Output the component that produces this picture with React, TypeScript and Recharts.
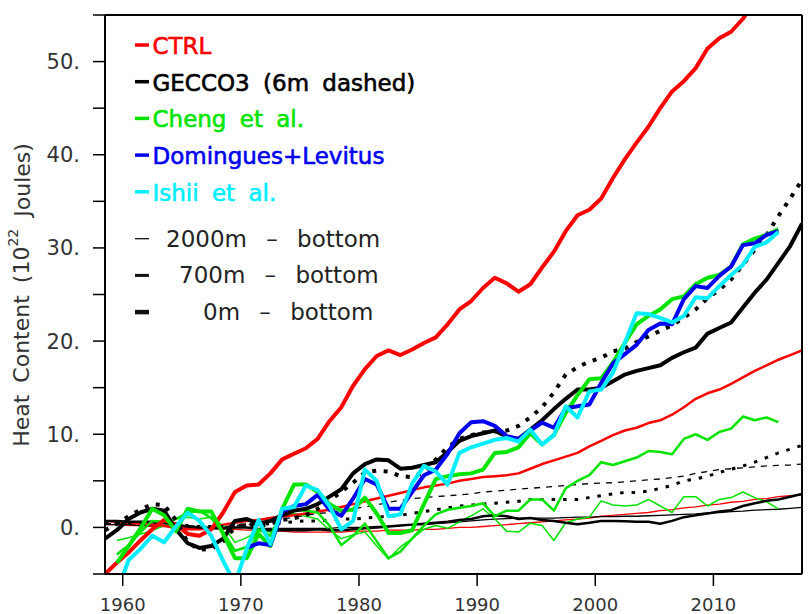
import { LineChart, Line, XAxis, YAxis } from 'recharts';

// annual means, plotted at mid-year
const YEARS = [
  1958.5, 1959.5, 1960.5, 1961.5, 1962.5, 1963.5, 1964.5, 1965.5, 1966.5, 1967.5,
  1968.5, 1969.5, 1970.5, 1971.5, 1972.5, 1973.5, 1974.5, 1975.5, 1976.5, 1977.5,
  1978.5, 1979.5, 1980.5, 1981.5, 1982.5, 1983.5, 1984.5, 1985.5, 1986.5, 1987.5,
  1988.5, 1989.5, 1990.5, 1991.5, 1992.5, 1993.5, 1994.5, 1995.5, 1996.5, 1997.5,
  1998.5, 1999.5, 2000.5, 2001.5, 2002.5, 2003.5, 2004.5, 2005.5, 2006.5, 2007.5,
  2008.5, 2009.5, 2010.5, 2011.5, 2012.5, 2013.5, 2014.5, 2015.5, 2016.5, 2017.5,
];

const CTRL_0M = [
  -5.0, -3.8, -2.7, -1.4, -0.2, 0.8, 0.3, -0.7, -0.9, -0.2,
  1.6, 3.8, 4.5, 4.6, 5.8, 7.3, 7.9, 8.5, 9.5, 11.4,
  12.9, 15.2, 17.0, 18.4, 19.0, 18.5, 19.1, 19.8, 20.4, 21.8,
  23.4, 24.3, 25.7, 26.8, 26.2, 25.3, 26.1, 27.9, 29.6, 31.8,
  33.5, 34.1, 35.3, 37.5, 39.5, 41.3, 43.0, 45.0, 46.8, 47.9,
  49.3, 51.4, 52.5, 53.2, 54.6, 56.4, 58.3, 60.1, 62.0, 63.8,
];
const CTRL_700M = [
  0.7, 0.6, 0.5, 0.4, 0.3, 0.2, -0.1, -0.2, -0.2, -0.1,
  0.3, 0.5, 0.7, 0.8, 1.0, 1.2, 1.3, 1.5, 1.7, 1.9,
  2.2, 2.5, 2.8, 3.1, 3.4, 3.7, 4.0, 4.3, 4.5, 4.7,
  5.0, 5.2, 5.4, 5.5, 5.6, 5.8, 6.3, 6.8, 7.2, 7.6,
  8.0, 8.7, 9.3, 9.9, 10.4, 10.7, 11.2, 11.5, 12.1, 12.9,
  13.8, 14.4, 14.8, 15.4, 16.1, 16.8, 17.4, 18.0, 18.5, 19.0,
];
const CTRL_2000M = [
  0.3, 0.3, 0.2, 0.2, 0.1, 0.1, 0.0, 0.0, -0.1, -0.1,
  -0.2, -0.2, -0.3, -0.3, -0.4, -0.4, -0.5, -0.5, -0.5, -0.5,
  -0.5, -0.4, -0.4, -0.4, -0.3, -0.3, -0.3, -0.2, -0.2, -0.1,
  0.0, 0.0, 0.1, 0.2, 0.3, 0.4, 0.5, 0.6, 0.7, 0.8,
  0.9, 1.0, 1.2, 1.3, 1.4, 1.5, 1.6, 1.8, 1.9, 2.1,
  2.2, 2.4, 2.5, 2.7, 2.8, 3.0, 3.1, 3.3, 3.4, 3.5,
];

const GECCO_0M = [
  -1.2, -0.3, 0.9, 1.6, 2.0, 1.8, -0.2, -1.7, -2.2, -2.0,
  -1.2, 0.7, 0.9, 0.4, 0.7, 1.3, 1.8, 2.0, 2.5, 3.3,
  4.1, 5.8, 6.8, 7.3, 7.2, 6.3, 6.4, 6.7, 7.0, 8.1,
  9.3, 9.8, 10.1, 10.4, 9.7, 9.5, 10.5, 11.5, 12.7, 13.8,
  14.8, 14.8, 15.0, 15.7, 16.4, 16.8, 17.1, 17.4, 18.2, 18.8,
  19.3, 20.8, 21.4, 22.0, 23.6, 25.2, 26.6, 28.4, 30.2, 32.6,
];
const GECCO6M_0M = [
  -0.3, 0.4, 1.2, 1.9, 2.5, 2.4, 0.8, -1.6, -2.4, -2.3,
  -1.5, 0.0, 0.4, 0.1, 0.4, 0.8, 1.0, 1.3, 2.0, 2.9,
  3.8, 4.8, 5.9, 6.1, 6.0, 5.5, 5.4, 5.9, 7.3, 8.6,
  9.5, 9.9, 10.2, 10.3, 10.4, 10.9, 11.8, 12.9, 14.5, 16.4,
  17.2, 17.8, 18.2, 18.9, 19.2, 19.9, 20.5, 21.1, 21.7, 22.5,
  23.4, 24.6, 25.5, 26.6, 28.2, 29.8, 31.4, 33.4, 35.3, 37.3,
];
const GECCO_700M = [
  0.7, 0.7, 0.6, 0.6, 0.6, 0.5, 0.3, 0.1, 0.0, -0.1,
  -0.1, 0.0, 0.0, -0.2, -0.3, -0.3, -0.3, -0.3, -0.2, -0.3,
  -0.3, -0.2, -0.1, 0.0, 0.1, 0.2, 0.3, 0.4, 0.5, 0.6,
  0.8, 0.9, 1.2, 1.3, 1.2, 0.9, 1.0, 0.8, 0.7, 0.5,
  0.35, 0.5, 0.7, 0.7, 0.65, 0.6, 0.6, 0.4, 0.7, 1.1,
  1.3, 1.5, 1.7, 1.85, 2.3, 2.6, 2.85, 3.0, 3.3, 3.6,
];
const GECCO6M_700M = [
  0.5, 0.5, 0.5, 0.5, 0.6, 0.6, 0.4, 0.2, 0.1, 0.1,
  0.1, 0.2, 0.3, 0.3, 0.4, 0.5, 0.6, 0.7, 0.7, 0.8,
  0.9, 0.9, 1.0, 1.1, 1.2, 1.3, 1.5, 1.7, 1.9, 2.1,
  2.3, 2.4, 2.5, 2.6, 2.7, 2.8, 3.0, 3.0, 3.0, 3.0,
  3.0, 3.2, 3.4, 3.6, 3.75, 3.75, 3.9, 4.2, 4.5, 5.0,
  5.2, 5.5, 5.9, 6.25, 6.6, 7.0, 7.5, 8.0, 8.4, 8.8,
];
const GECCO_2000M = [
  0.3, 0.3, 0.3, 0.2, 0.2, 0.2, 0.1, 0.1, 0.0, 0.0,
  0.0, 0.0, 0.0, -0.1, -0.1, -0.1, -0.1, -0.1, -0.1, -0.1,
  0.0, 0.0, 0.0, 0.1, 0.1, 0.2, 0.3, 0.3, 0.4, 0.5,
  0.6, 0.7, 0.8, 0.9, 0.95, 1.0, 1.0, 1.0, 1.0, 1.05,
  1.1, 1.1, 1.15, 1.15, 1.2, 1.2, 1.25, 1.3, 1.35, 1.4,
  1.45, 1.55, 1.6, 1.7, 1.75, 1.85, 1.9, 1.95, 2.05, 2.15,
];
const GECCO6M_2000M = [
  0.4, 0.4, 0.3, 0.3, 0.4, 0.4, 0.3, 0.2, 0.1, 0.1,
  0.1, 0.2, 0.3, 0.5, 0.7, 0.9, 1.1, 1.3, 1.5, 1.6,
  1.8, 2.0, 2.2, 2.4, 2.7, 2.9, 3.1, 3.2, 3.3, 3.4,
  3.5, 3.6, 3.8, 3.9, 4.0, 4.1, 4.2, 4.3, 4.4, 4.5,
  4.6, 4.7, 4.75, 4.8, 4.9, 5.0, 5.1, 5.2, 5.35, 5.5,
  5.8, 6.0, 6.2, 6.3, 6.4, 6.5, 6.6, 6.65, 6.7, 6.8,
];

const CHENG_0M = [
  null, -3.8, -2.0, -0.1, 2.0, 1.3, -0.4, 2.0, 1.7, 1.7,
  -0.7, -3.3, -3.3, -0.7, -2.0, 2.0, 4.6, 4.6, 3.8, 2.5,
  1.8, 1.9, 3.2, 1.5, -0.6, -0.6, -0.3, 2.5, 5.2, 5.5,
  5.7, 5.8, 6.2, 8.0, 8.1, 8.6, 10.1, 8.9, 9.9, 12.3,
  14.2, 15.9, 16.0, 17.7, 19.8, 21.8, 22.7, 23.4, 24.5, 24.8,
  26.1, 26.8, 27.1, 28.0, 30.4, 31.0, 31.4, 32.0, null, null,
];
const CHENG_700M = [
  null, -2.9, -1.9, -0.5, 0.7, 0.6, 0.9, 1.6, 1.8, 1.0,
  -0.5, -2.5, -2.1, -0.2, -0.9, 1.6, 1.9, 1.8, 1.6, 0.2,
  -1.9, -0.9, 0.4, -1.5, -3.3, -2.6, -1.2, 0.2, 1.4, 1.9,
  2.1, 2.3, 2.6, 1.2, 1.8, 1.8, 3.0, 3.0, 1.8, 4.2,
  5.0, 5.6, 7.0, 6.7, 7.1, 7.5, 8.2, 8.1, 7.85, 9.5,
  10.0, 9.4, 10.25, 10.6, 11.9, 11.5, 11.8, 11.3, null, null,
];
const CHENG_2000M = [
  null, -1.4, -1.1, -0.7, -0.35, 0.2, 0.9, 1.1, 0.9, 1.1,
  0.2, -1.6, -1.1, -0.35, -0.5, 1.25, 1.5, 1.2, 0.9, -0.3,
  -1.2, -0.8, -0.5, -2.0, -3.4, -2.1, -1.2, -0.2, 0.2, -0.1,
  0.6, 1.25, 2.0, 0.9, -0.4, -0.5, 0.45, 0.2, -1.4, 0.5,
  0.9, 1.1, 2.85, 2.4, 2.3, 2.4, 3.0, 2.3, 1.6, 3.3,
  3.3, 2.3, 3.0, 3.2, 3.8, 3.2, 2.75, 2.0, null, null,
];

const DOMINGUES_0M = [
  null, null, null, null, null, null, null, null, null, null,
  null, null, -2.2, -1.7, -1.9, 1.7, 2.3, 2.5, 3.5, 1.9,
  1.25, 3.1, 5.2, 4.6, 2.0, 2.0, 3.8, 5.6, 6.2, 7.9,
  10.1, 11.3, 11.4, 10.9, 9.8, 9.5, 10.4, 11.25, 10.7, 12.8,
  13.0, 13.2, 15.5, 17.6, 18.6, 19.6, 21.2, 21.9, 21.8, 24.5,
  25.9, 25.7, 27.0, 28.0, 30.3, 30.5, 31.4, 31.8, null, null,
];
const ISHII_0M = [
  null, -7.0, -3.5, -2.3, -0.9, -1.6, 0.1, 1.6, 0.7, -0.9,
  -3.6, -6.0, -2.3, 0.8, -1.8, 2.0, 2.2, 4.5, 4.0, 2.3,
  -0.2, 0.7, 6.2, 5.0, 1.2, 1.4, 4.7, 6.6, 6.0, 4.6,
  8.0, 8.6, 9.0, 9.4, 9.6, 9.2, 10.5, 8.9, 9.9, 13.0,
  11.8, 14.6, 14.8, 16.6, 19.8, 23.0, 22.9, 22.5, 22.0, 22.7,
  24.7, 24.6, 25.9, 27.1, 28.2, 30.1, 30.6, 31.7, null, null,
];

const X_TICKS = [1960, 1970, 1980, 1990, 2000, 2010];
const Y_TICKS = [-5, 0, 5, 10, 15, 20, 25, 30, 35, 40, 45, 50, 55];
const Y_LABELS = [0, 10, 20, 30, 40, 50];

const RED = '#ff0000';
const BLACK = '#000000';
const GREEN = '#00e400';
const BLUE = '#0000f0';
const CYAN = '#00eeff';
const FONT = '"DejaVu Sans", sans-serif';

const rows = YEARS.map((x, i) => ({
  x,
  ctrl0: CTRL_0M[i],
  ctrl700: CTRL_700M[i],
  ctrl2000: CTRL_2000M[i],
  gecco0: GECCO_0M[i],
  gecco6m0: GECCO6M_0M[i],
  gecco700: GECCO_700M[i],
  gecco6m700: GECCO6M_700M[i],
  gecco2000: GECCO_2000M[i],
  gecco6m2000: GECCO6M_2000M[i],
  cheng0: CHENG_0M[i],
  cheng700: CHENG_700M[i],
  cheng2000: CHENG_2000M[i],
  domingues0: DOMINGUES_0M[i],
  ishii0: ISHII_0M[i],
}));

// thin (2000m) first, then 700m, thick 0m on top
const SERIES = [
  { key: 'ctrl2000', color: RED, width: 1.3 },
  { key: 'gecco2000', color: BLACK, width: 1.3 },
  { key: 'gecco6m2000', color: BLACK, width: 1.3, dash: '6 6' },
  { key: 'cheng2000', color: GREEN, width: 1.5 },
  { key: 'ctrl700', color: RED, width: 2.5 },
  { key: 'gecco700', color: BLACK, width: 2.5 },
  { key: 'gecco6m700', color: BLACK, width: 3, dash: '3.5 8' },
  { key: 'cheng700', color: GREEN, width: 2.5 },
  { key: 'ctrl0', color: RED, width: 4 },
  { key: 'gecco0', color: BLACK, width: 4 },
  { key: 'gecco6m0', color: BLACK, width: 4, dash: '4 7.5' },
  { key: 'cheng0', color: GREEN, width: 4 },
  { key: 'domingues0', color: BLUE, width: 4 },
  { key: 'ishii0', color: CYAN, width: 4 },
];

const DATASETS = [
  { label: 'CTRL', color: RED },
  { label: 'GECCO3 (6m dashed)', color: BLACK },
  { label: 'Cheng et al.', color: GREEN },
  { label: 'Domingues+Levitus', color: BLUE },
  { label: 'Ishii et al.', color: CYAN },
];
const DEPTHS = [
  { label: '2000m – bottom', width: 1.3, x: 166 },
  { label: '700m – bottom', width: 3, x: 179 },
  { label: '0m – bottom', width: 4.5, x: 203 },
];

const Overlay = () => (
  <svg
    width={809}
    height={614}
    style={{ position: 'absolute', left: 0, top: 0, pointerEvents: 'none' }}
    fontFamily={FONT}
  >
    <text
      transform="translate(21.5,295) rotate(-90)"
      textAnchor="middle"
      dominantBaseline="central"
      fontSize={22}
      fill="#333"
      wordSpacing={5}
    >
      Heat Content (10
      <tspan fontSize={14} dy={-9}>22</tspan>
      <tspan dy={9}> Joules)</tspan>
    </text>
    {DATASETS.map((d, i) => {
      const base = 54 + i * 36.7;
      return (
        <g key={d.label}>
          <line x1={135} x2={149} y1={base - 9} y2={base - 9} stroke={d.color} strokeWidth={3.5} />
          <text
            x={152.5}
            y={base}
            fontSize={23}
            fill={d.color}
            stroke={d.color}
            strokeWidth={0.6}
            wordSpacing={6}
          >
            {d.label}
          </text>
        </g>
      );
    })}
    {DEPTHS.map((d, i) => {
      const base = 246.7 + i * 36.7;
      return (
        <g key={d.label}>
          <line x1={135} x2={149} y1={base - 8} y2={base - 8} stroke="#111" strokeWidth={d.width} />
          <text x={d.x} y={base} fontSize={23} fill="#222" wordSpacing={12}>
            {d.label}
          </text>
        </g>
      );
    })}
  </svg>
);

export default function App() {
  return (
    <div style={{ position: 'absolute', left: 0, top: 0, width: 809, height: 614, background: '#fff' }}>
      <LineChart width={809} height={614} data={rows} margin={{ top: 0, right: 0, bottom: 0, left: 0 }}>
        <XAxis
          xAxisId="bottom"
          dataKey="x"
          type="number"
          domain={[1958.5, 2017.5]}
          allowDataOverflow
          ticks={X_TICKS}
          interval={0}
          height={40}
          tickSize={12}
          tickMargin={12}
          axisLine={{ stroke: '#000', strokeWidth: 2 }}
          tickLine={{ stroke: '#000', strokeWidth: 1.5 }}
          tick={{ fill: '#333', fontSize: 18, fontFamily: FONT }}
        />
        <XAxis
          xAxisId="top"
          orientation="top"
          dataKey="x"
          type="number"
          domain={[1958.5, 2017.5]}
          allowDataOverflow
          ticks={X_TICKS}
          interval={0}
          height={15}
          tickSize={12}
          tick={false}
          axisLine={{ stroke: '#000', strokeWidth: 2 }}
          tickLine={{ stroke: '#000', strokeWidth: 1.5 }}
        />
        <YAxis
          yAxisId="left"
          type="number"
          domain={[-5, 55]}
          allowDataOverflow
          ticks={Y_TICKS}
          interval={0}
          width={105}
          tickSize={12}
          tickMargin={13}
          tickFormatter={(v: number) => (Y_LABELS.includes(v) ? `${v}.` : '')}
          axisLine={{ stroke: '#000', strokeWidth: 2 }}
          tickLine={{ stroke: '#000', strokeWidth: 1.5 }}
          tick={{ fill: '#333', fontSize: 21, fontFamily: FONT }}
        />
        <YAxis
          yAxisId="right"
          orientation="right"
          type="number"
          domain={[-5, 55]}
          allowDataOverflow
          ticks={Y_TICKS}
          interval={0}
          width={7}
          tickSize={-4}
          tick={false}
          axisLine={{ stroke: '#000', strokeWidth: 2 }}
          tickLine={{ stroke: '#000', strokeWidth: 1.5 }}
        />
        {SERIES.map((s) => (
          <Line
            key={s.key}
            xAxisId="bottom"
            yAxisId="left"
            dataKey={s.key}
            type="linear"
            stroke={s.color}
            strokeWidth={s.width}
            strokeDasharray={s.dash}
            strokeLinejoin="round"
            dot={false}
            activeDot={false}
            isAnimationActive={false}
          />
        ))}
      </LineChart>
      <Overlay />
    </div>
  );
}
